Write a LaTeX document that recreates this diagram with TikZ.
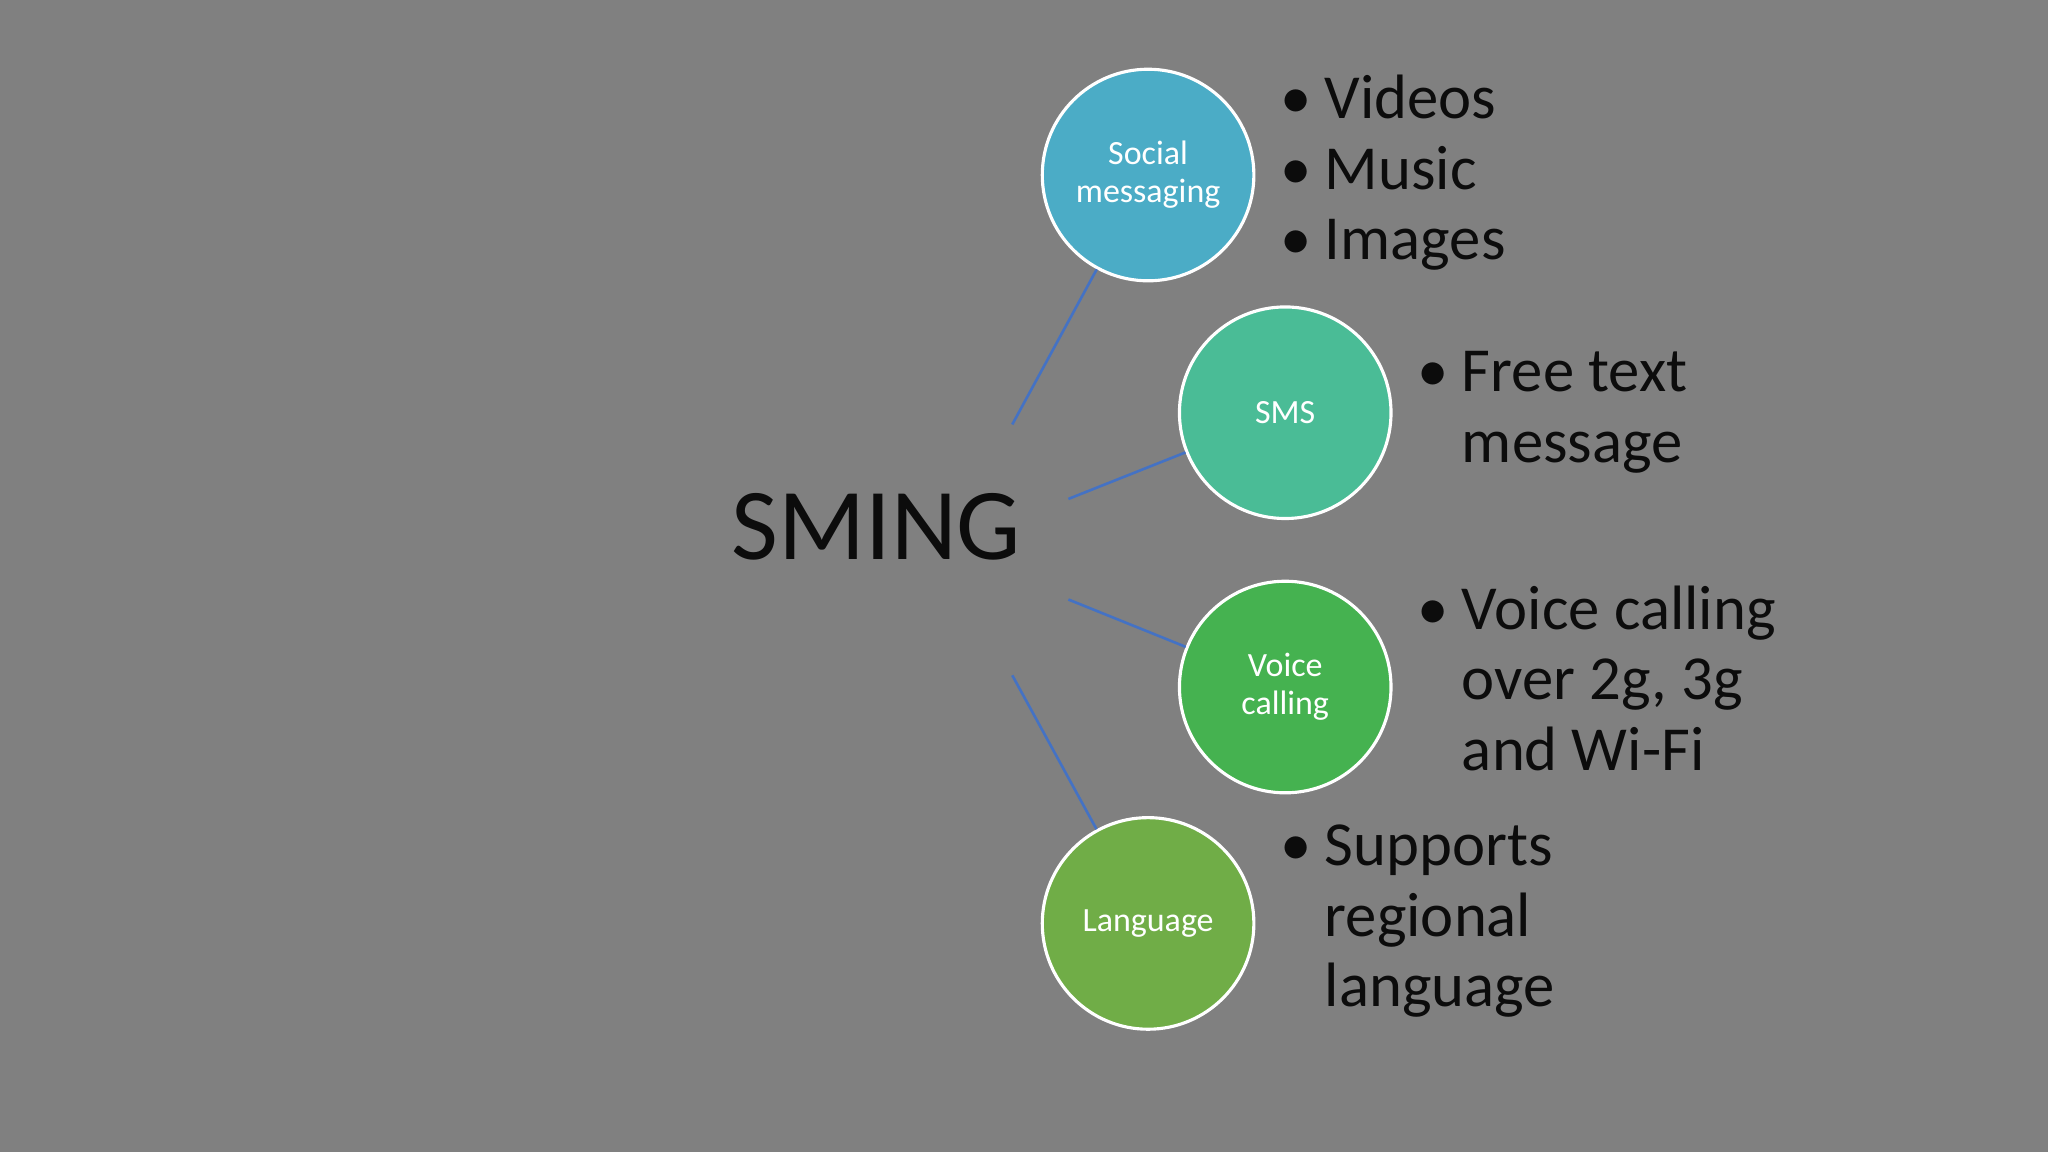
\documentclass[tikz,border=0pt]{standalone}
\usepackage{fontspec}
\setmainfont{Carlito}
\begin{document}
\begin{tikzpicture}[x=0.5pt,y=-0.5pt,
  circ/.style={circle,draw=white,line width=1.2pt,minimum size=162*0.5pt,inner sep=0pt,text=white,align=center,font=\fontsize{13}{14.5}\selectfont},
  conn/.style={draw={rgb,255:red,68;green,114;blue,196},line width=1pt},
  blist/.style={anchor=west,inner sep=0pt,font=\fontsize{24}{27}\selectfont,text={rgb,255:red,12;green,12;blue,12}}]
\fill[fill={rgb,255:red,128;green,128;blue,128}] (0,0) rectangle (1568,882);
\useasboundingbox (0,0) rectangle (1568,882);
\node[circ,fill={rgb,255:red,75;green,172;blue,198}] (c1) at (879,134) {Social\\messaging};
\node[circ,fill={rgb,255:red,74;green,188;blue,150}] (c2) at (984,316) {SMS};
\node[circ,fill={rgb,255:red,69;green,178;blue,80}] (c3) at (984,526) {Voice\\calling};
\node[circ,fill={rgb,255:red,112;green,173;blue,71}] (c4) at (879,707) {Language};
\node[inner sep=0pt,font=\fontsize{39}{44}\selectfont,text={rgb,255:red,12;green,12;blue,12}] (sming) at (671,403) {SMING};
\coordinate (s1) at (775,325);
\coordinate (s2) at (818,382);
\coordinate (s3) at (818,459);
\coordinate (s4) at (775,517);
\draw[conn] (s1) -- (c1);
\draw[conn] (s2) -- (c2);
\draw[conn] (s3) -- (c3);
\draw[conn] (s4) -- (c4);
\newcommand{\blt}[1]{\begin{tabular}{@{}l@{\hspace{5pt}}l@{}}#1\end{tabular}}
\node[blist] (l1) at (980,134) {\blt{•&Videos\\•&Music\\•&Images}};
\node[blist] (l2) at (1085,316) {\blt{•&Free text\\&message}};
\node[blist] (l3) at (1085,525) {\blt{•&Voice calling\\&over 2g, 3g\\&and Wi-Fi}};
\node[blist] (l4) at (980,706) {\blt{•&Supports\\&regional\\&language}};
\end{tikzpicture}
\end{document}
